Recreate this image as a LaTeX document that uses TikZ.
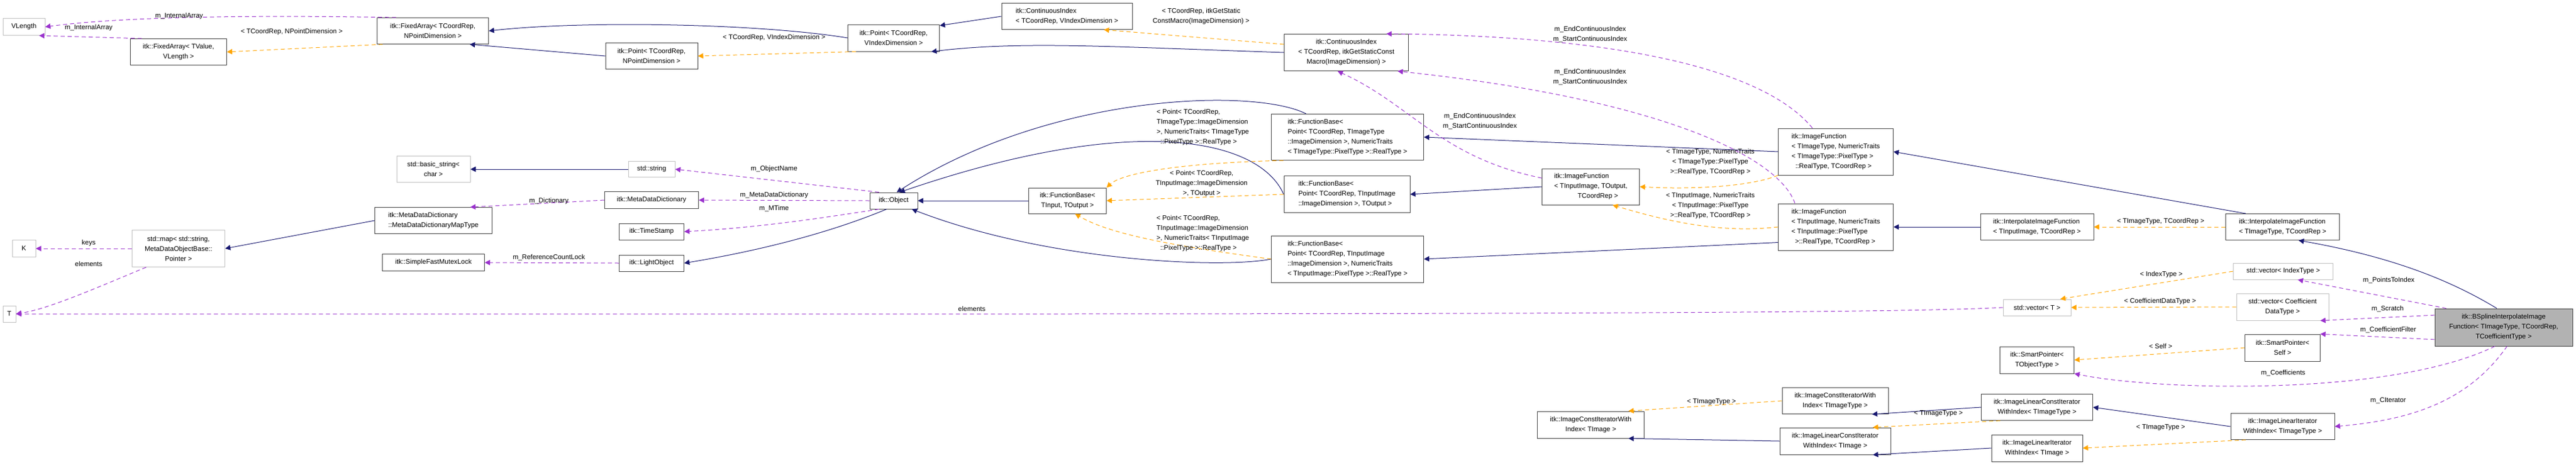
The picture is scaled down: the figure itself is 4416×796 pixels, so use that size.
\documentclass[tikz,border=0pt]{standalone}
\usepackage{fontspec}
\setmainfont{Liberation Sans}
\usetikzlibrary{arrows.meta}
\definecolor{navy}{HTML}{191970}
\definecolor{dorange}{HTML}{FFA500}
\definecolor{dpurple}{HTML}{9A32CD}
\definecolor{gbord}{HTML}{BFBFBF}
\tikzset{
  cls/.style={draw=black!75, line width=1pt, fill=white, inner sep=2pt, align=center, font=\fontsize{11.5}{17}\selectfont},
  ext/.style={cls, draw=gbord},
  lbl/.style={inner sep=0pt, align=center, font=\fontsize{11.5}{17}\selectfont},
  tip/.style={-{Triangle[length=9pt,width=9pt]}},
  inh/.style={draw=navy, line width=1pt, tip},
  tmpl/.style={draw=dorange, line width=1pt, dash pattern=on 7pt off 5pt, -{Triangle[length=9pt,width=9pt,fill=dorange]}},
  mem/.style={draw=dpurple, line width=1pt, dash pattern=on 7pt off 5pt, -{Triangle[length=9pt,width=9pt,fill=dpurple]}},
}
\begin{document}
\begin{tikzpicture}[x=1pt,y=-1pt]
\useasboundingbox (0,0) rectangle (4416,796);
% nodes
\node[ext, minimum width=72, minimum height=29] (VL) at (41,46) {VLength};
\node[cls, minimum width=165, minimum height=45] (FAT) at (306,89) {itk::FixedArray< TValue,\\ VLength >};
\node[ext, minimum width=40, minimum height=29] (K) at (41,426) {K};
\node[ext, minimum width=22, minimum height=28] (T) at (16,538) {T};
\node[ext, minimum width=159, minimum height=63] (MAP) at (306,426) {std::map< std::string,\\ MetaDataObjectBase::\\Pointer >};
\node[cls, minimum width=191, minimum height=45] (FAN) at (742,53) {itk::FixedArray< TCoordRep,\\ NPointDimension >};
\node[cls, minimum width=158, minimum height=45] (PN) at (1117,96) {itk::Point< TCoordRep,\\ NPointDimension >};
\node[cls, minimum width=157, minimum height=46] (PV) at (1532,65) {itk::Point< TCoordRep,\\ VIndexDimension >};
\node[cls, minimum width=224, minimum height=45, align=left] (CIV) at (1829,28) {itk::ContinuousIndex\\< TCoordRep, VIndexDimension >};
\node[cls, minimum width=213, minimum height=63] (CIS) at (2308,90) {itk::ContinuousIndex\\< TCoordRep, itkGetStaticConst\\Macro(ImageDimension) >};
\node[ext, minimum width=126, minimum height=45] (BS) at (743,290) {std::basic\_string<\\ char >};
\node[cls, minimum width=201, minimum height=45, align=left] (MDM) at (743,378) {itk::MetaDataDictionary\\::MetaDataDictionaryMapType};
\node[cls, minimum width=175, minimum height=29] (SFML) at (743,450) {itk::SimpleFastMutexLock};
\node[ext, minimum width=80, minimum height=27] (STR) at (1117,290) {std::string};
\node[cls, minimum width=161, minimum height=29] (MDD) at (1117,343) {itk::MetaDataDictionary};
\node[cls, minimum width=111, minimum height=28] (TS) at (1117,397) {itk::TimeStamp};
\node[cls, minimum width=111, minimum height=28] (LO) at (1117,451) {itk::LightObject};
\node[cls, minimum width=82, minimum height=28] (OBJ) at (1532,344) {itk::Object};
\node[cls, minimum width=133, minimum height=44] (FBT) at (1830,344) {itk::FunctionBase<\\ TInput, TOutput >};
\node[cls, minimum width=261, minimum height=79, align=left] (FBPI) at (2310,235) {itk::FunctionBase<\\ Point< TCoordRep, TImageType\\::ImageDimension >, NumericTraits\\< TImageType::PixelType >::RealType >};
\node[cls, minimum width=216, minimum height=63, align=left] (FBPO) at (2309,333) {itk::FunctionBase<\\ Point< TCoordRep, TInputImage\\::ImageDimension >, TOutput >};
\node[cls, minimum width=261, minimum height=80, align=left] (FBPN) at (2310,444) {itk::FunctionBase<\\ Point< TCoordRep, TInputImage\\::ImageDimension >, NumericTraits\\< TInputImage::PixelType >::RealType >};
\node[cls, minimum width=167, minimum height=62, align=left] (IFO) at (2727,320) {itk::ImageFunction\\< TInputImage, TOutput,\\\hspace*{3.5em}TCoordRep >};
\node[cls, minimum width=197, minimum height=80, align=left] (IFI) at (3147,260) {itk::ImageFunction\\< TImageType, NumericTraits\\< TImageType::PixelType >\\\ \ ::RealType, TCoordRep >};
\node[cls, minimum width=197, minimum height=80, align=left] (IFN) at (3147,389) {itk::ImageFunction\\< TInputImage, NumericTraits\\< TInputImage::PixelType\\\ \ >::RealType, TCoordRep >};
\node[cls, minimum width=194, minimum height=45, align=left] (IIN) at (3492,389) {itk::InterpolateImageFunction\\< TInputImage, TCoordRep >};
\node[cls, minimum width=195, minimum height=45, align=left] (III) at (3913,389) {itk::InterpolateImageFunction\\< TImageType, TCoordRep >};
\node[ext, minimum width=116, minimum height=28] (VT) at (3492,527) {std::vector< T >};
\node[ext, minimum width=171, minimum height=28] (VI) at (3914,465) {std::vector< IndexType >};
\node[ext, minimum width=158, minimum height=46] (VC) at (3913,526) {std::vector< Coefficient\\DataType >};
\node[cls, fill=black!30, minimum width=236, minimum height=64] (BSP) at (4292,561) {itk::BSplineInterpolateImage\\Function< TImageType, TCoordRep,\\ TCoefficientType >};
\node[cls, minimum width=129, minimum height=46] (SPS) at (3913,596) {itk::SmartPointer<\\ Self >};
\node[cls, minimum width=127, minimum height=46] (SPT) at (3492,617) {itk::SmartPointer<\\ TObjectType >};
\node[cls, minimum width=178, minimum height=45] (LITT) at (3913,731) {itk::ImageLinearIterator\\WithIndex< TImageType >};
\node[cls, minimum width=191, minimum height=45] (LCITT) at (3492,698) {itk::ImageLinearConstIterator\\WithIndex< TImageType >};
\node[cls, minimum width=156, minimum height=46] (LITI) at (3492,768) {itk::ImageLinearIterator\\WithIndex< TImage >};
\node[cls, minimum width=182, minimum height=45] (CIWT) at (3146,687) {itk::ImageConstIteratorWith\\Index< TImageType >};
\node[cls, minimum width=190, minimum height=46] (LCITI) at (3146,756) {itk::ImageLinearConstIterator\\WithIndex< TImage >};
\node[cls, minimum width=183, minimum height=46] (CIWI) at (2727,728) {itk::ImageConstIteratorWith\\Index< TImage >};

% inheritance
\draw[inh] (PN.west) -- (FAN.-20);
\draw[inh] (PV.west) .. controls (1300,40) and (1000,35) .. (FAN.east);
\draw[inh] (CIV.west) -- (PV.15);
\draw[inh] (CIS.west) .. controls (1900,80) and (1750,70) .. (PV.-20);
\draw[inh] (MDM.west) -- (MAP.east);
\draw[inh] (STR.west) -- (BS.east);
\draw[inh] (OBJ.-130) .. controls (1420,400) and (1300,430) .. (LO.east);
\draw[inh] (FBT.west) -- (OBJ.east);
\draw[inh] (FBPI.north west) ++(60,0) .. controls (2150,150) and (1800,160) .. (OBJ.70);
\draw[inh] (FBPO.west) .. controls (2160,240) and (1950,190) .. (OBJ.55);
\draw[inh] (FBPN.west) .. controls (2100,460) and (1800,450) .. (OBJ.-25);
\draw[inh] (IFI.west) -- (FBPI.east);
\draw[inh] (IFO.west) -- (FBPO.east);
\draw[inh] (IFN.-165) -- (FBPN.east);
\draw[inh] (IIN.west) -- (IFN.east);
\draw[inh] (III.160) -- (IFI.east);
\draw[inh] (BSP.110) .. controls (4200,480) and (4100,440) .. (III.-40);
\draw[inh] (LCITI.west) -- (CIWI.-20);
\draw[inh] (LCITT.west) -- (CIWT.-20);
\draw[inh] (LITT.west) -- (LCITT.east);
\draw[inh] (LITI.west) -- (LCITI.-20);

% templates
\draw[tmpl] (FAN.-165) -- (FAT.east);
\draw[tmpl] (PV.-160) -- (PN.east);
\draw[tmpl] (CIS.west) ++(0,-14) -- (CIV.-20);
\draw[tmpl] (FBPI.-160) .. controls (2000,280) and (1920,300) .. (FBT.north east);
\draw[tmpl] (FBPO.west) -- (FBT.east);
\draw[tmpl] (FBPN.west) .. controls (2000,420) and (1900,400) .. (FBT.-60);
\draw[tmpl] (IFI.south west) .. controls (3000,320) and (2900,325) .. (IFO.east);
\draw[tmpl] (IFN.west) .. controls (2950,400) and (2860,380) .. (IFO.-40);
\draw[tmpl] (III.west) -- (IIN.east);
\draw[tmpl] (VI.west) -- (VT.20);
\draw[tmpl] (VC.west) -- (VT.east);
\draw[tmpl] (SPS.west) -- (SPT.east);
\draw[tmpl] (CIWT.west) -- (CIWI.20);
\draw[tmpl] (LCITT.-160) -- (LCITI.20);
\draw[tmpl] (LITT.-160) -- (LITI.east);

% members
\draw[mem] (FAN.160) .. controls (400,25) and (200,30) .. (VL.east);
\draw[mem] (FAT.160) -- (VL.-30);
\draw[mem] (MAP.west) -- (K.east);
\draw[mem] (MAP.-150) .. controls (150,500) and (80,530) .. (T.east);
\draw[mem] (VT.west) .. controls (3200,540) and (2000,538) .. (T.east);
\draw[mem] (OBJ.150) -- (STR.east);
\draw[mem] (OBJ.west) -- (MDD.east);
\draw[mem] (OBJ.-150) .. controls (1400,375) and (1300,390) .. (TS.east);
\draw[mem] (MDD.west) -- (MDM.20);
\draw[mem] (LO.west) -- (SFML.east);
\draw[mem] (IFI.north) ++(-40,0) .. controls (3000,90) and (2650,60) .. (CIS.25);
\draw[mem] (IFN.north) ++(-70,0) .. controls (3050,270) and (2850,170) .. (CIS.-20);
\draw[mem] (IFO.170) .. controls (2470,270) and (2420,180) .. (CIS.-115);
\draw[mem] (BSP.north west) ++(20,0) -- (VI.-30);
\draw[mem] (BSP.170) -- (VC.-20);
\draw[mem] (BSP.-170) -- (SPS.20);
\draw[mem] (BSP.-115) .. controls (4100,680) and (3700,670) .. (SPT.-20);
\draw[mem] (BSP.-80) .. controls (4230,690) and (4130,720) .. (LITT.east);

% labels
\node[lbl] (l1) at (307,28) {m\_InternalArray};
\node[lbl] (l2) at (152,48) {m\_InternalArray};
\node[lbl] (l3) at (500,55) {< TCoordRep, NPointDimension >};
\node[lbl] (l4) at (1327,65) {< TCoordRep, VIndexDimension >};
\node[lbl] (l5) at (2059,28) {< TCoordRep, itkGetStatic\\ConstMacro(ImageDimension) >};
\node[lbl] (l6) at (152,417) {keys};
\node[lbl] (l7) at (152,452) {elements};
\node[lbl] (l8) at (1666,529) {elements};
\node[lbl] (l9) at (1327,290) {m\_ObjectName};
\node[lbl] (l10) at (1327,335) {m\_MetaDataDictionary};
\node[lbl] (l11) at (1327,357) {m\_MTime};
\node[lbl] (l12) at (941,345) {m\_Dictionary};
\node[lbl] (l13) at (941,441) {m\_ReferenceCountLock};
\node[lbl, align=left] (l14) at (2062,218) {< Point< TCoordRep,\\TImageType::ImageDimension\\>, NumericTraits< TImageType\\\ \ ::PixelType >::RealType >};
\node[lbl] (l15) at (2060,315) {< Point< TCoordRep,\\TInputImage::ImageDimension\\>, TOutput >};
\node[lbl, align=left] (l16) at (2062,400) {< Point< TCoordRep,\\TInputImage::ImageDimension\\>, NumericTraits< TInputImage\\\ \ ::PixelType >::RealType >};
\node[lbl] (l17) at (2726,59) {m\_EndContinuousIndex\\m\_StartContinuousIndex};
\node[lbl] (l18) at (2726,132) {m\_EndContinuousIndex\\m\_StartContinuousIndex};
\node[lbl] (l19) at (2537,208) {m\_EndContinuousIndex\\m\_StartContinuousIndex};
\node[lbl] (l20) at (2932,278) {< TImageType, NumericTraits\\< TImageType::PixelType\\>::RealType, TCoordRep >};
\node[lbl] (l21) at (2932,353) {< TInputImage, NumericTraits\\< TInputImage::PixelType\\>::RealType, TCoordRep >};
\node[lbl] (l22) at (3704,380) {< TImageType, TCoordRep >};
\node[lbl] (l23) at (3705,471) {< IndexType >};
\node[lbl] (l24) at (3703,517) {< CoefficientDataType >};
\node[lbl] (l25) at (3704,593) {< Self >};
\node[lbl] (l26) at (2934,689) {< TImageType >};
\node[lbl] (l27) at (3323,709) {< TImageType >};
\node[lbl] (l28) at (3704,733) {< TImageType >};
\node[lbl] (l29) at (4095,480) {m\_PointsToIndex};
\node[lbl] (l30) at (4093,529) {m\_Scratch};
\node[lbl] (l31) at (4094,565) {m\_CoefficientFilter};
\node[lbl] (l32) at (3914,639) {m\_Coefficients};
\node[lbl] (l33) at (4094,687) {m\_CIterator};
\end{tikzpicture}
\end{document}
